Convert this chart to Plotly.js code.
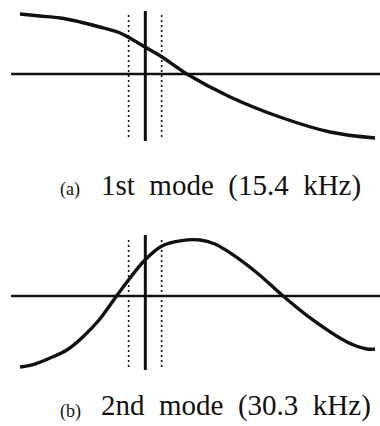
<!DOCTYPE html>
<html>
<head>
<meta charset="utf-8">
<script src="https://cdn.plot.ly/plotly-3.0.1.min.js"></script>
<style>
  html, body { margin: 0; padding: 0; background: #fff; }
  #plot { width: 380px; height: 426px; }
</style>
</head>
<body>
<div id="plot"></div>
<script>
// Normalised position along the beam (0 = left end, 1 = right end)
const pos1 = [0, 0.056, 0.113, 0.169, 0.225, 0.282, 0.304, 0.352, 0.400, 0.470, 0.592, 0.732, 0.873, 1.0];
// 1st bending mode shape (normalised deflection)
const mode1 = [0.938, 0.906, 0.875, 0.8125, 0.734, 0.641, 0.578, 0.422, 0.266, 0.0, -0.359, -0.672, -0.906, -1.0];

const pos2 = [0, 0.042, 0.085, 0.132, 0.177, 0.225, 0.268, 0.310, 0.352, 0.400, 0.451, 0.507, 0.549, 0.592, 0.668, 0.741, 0.825, 0.921, 0.977, 1.0];
// 2nd bending mode shape (normalised deflection)
const mode2 = [-1.0, -0.958, -0.873, -0.761, -0.577, -0.324, -0.028, 0.254, 0.507, 0.704, 0.775, 0.789, 0.732, 0.606, 0.324, 0.0, -0.338, -0.648, -0.746, -0.746];

// Undeformed beam axis
const beamAxis = [-0.025, 1.02];

// Sensor location: centre line and the two edges of the patch
const sensorCentre = 0.353;
const sensorEdges = [0.306, 0.399];

const captions = [
  { tag: '(a)', text: '1st\u00A0\u00A0mode\u00A0\u00A0(15.4\u00A0\u00A0kHz)' },
  { tag: '(b)', text: '2nd\u00A0\u00A0mode\u00A0\u00A0(30.3\u00A0\u00A0kHz)' }
];

const ink = '#111';
const traces = [];

function panel(xa, ya, pos, shape, centreSpan, edgeSpan) {
  // beam axis
  traces.push({ x: beamAxis, y: [0, 0], xaxis: xa, yaxis: ya, mode: 'lines',
    line: { color: ink, width: 2.6 }, hoverinfo: 'skip' });
  // patch edges (dotted)
  sensorEdges.forEach(e => traces.push({ x: [e, e], y: edgeSpan, xaxis: xa, yaxis: ya,
    mode: 'lines', line: { color: ink, width: 1.6, dash: '2px,3px' }, hoverinfo: 'skip' }));
  // patch centre (solid)
  traces.push({ x: [sensorCentre, sensorCentre], y: centreSpan, xaxis: xa, yaxis: ya,
    mode: 'lines', line: { color: ink, width: 3 }, hoverinfo: 'skip' });
  // mode shape
  traces.push({ x: pos, y: shape, xaxis: xa, yaxis: ya, mode: 'lines',
    line: { color: ink, width: 3.4, shape: 'spline', smoothing: 1 }, hoverinfo: 'skip' });
}

panel('x', 'y', pos1, mode1, [0.984, -1.047], [0.922, -1.031]);
panel('x2', 'y2', pos2, mode2, [0.859, -1.042], [0.789, -1.014]);

const hidden = { visible: false, showgrid: false, zeroline: false, fixedrange: true };

const font = 'Liberation Serif, Times New Roman, serif';
const annotations = [];
// [main caption y, tag y] in paper units
[[0.5657, 0.554], [0.047, 0.035]].forEach((yy, i) => {
  annotations.push({ xref: 'paper', yref: 'paper', x: 58 / 380, y: yy[1], xanchor: 'left', yanchor: 'middle',
    text: captions[i].tag, showarrow: false, font: { family: font, size: 18, color: ink } });
  annotations.push({ xref: 'paper', yref: 'paper', x: 99 / 380, y: yy[0], xanchor: 'left', yanchor: 'middle',
    text: captions[i].text, showarrow: false, font: { family: font, size: 29, color: ink } });
});

const layout = {
  width: 380, height: 426,
  margin: { l: 0, r: 0, t: 0, b: 0 },
  paper_bgcolor: '#fff', plot_bgcolor: '#fff',
  showlegend: false,
  xaxis: Object.assign({ range: [-0.0563, 1.014], domain: [0, 1] }, hidden),
  yaxis: Object.assign({ range: [-1.344, 1.156], domain: [0.6244, 1] }, hidden),
  xaxis2: Object.assign({ range: [-0.0563, 1.014], domain: [0, 1], anchor: 'y2' }, hidden),
  yaxis2: Object.assign({ range: [-1.183, 1.070], domain: [0.108, 0.4836], anchor: 'x2' }, hidden),
  annotations: annotations
};

Plotly.newPlot('plot', traces, layout, { staticPlot: true, displayModeBar: false });
</script>
</body>
</html>
